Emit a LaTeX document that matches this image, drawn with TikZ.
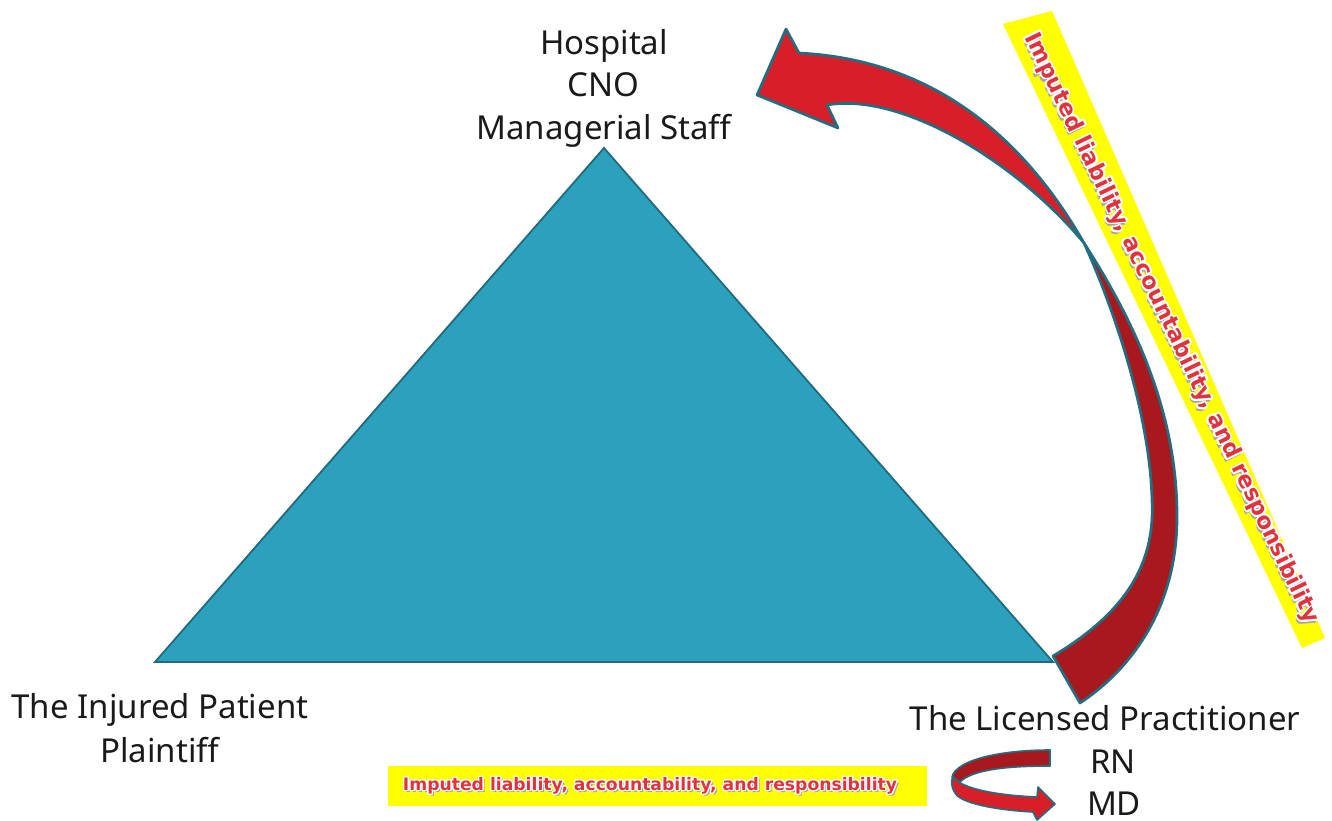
\documentclass[tikz,border=0pt]{standalone}
\usepackage{fontspec}
\usepackage{graphicx}
\usepackage{contour}
\setmainfont{Noto Sans}
\newfontfamily\badgefont{DejaVu Sans}
\contourlength{0.7pt}
\contournumber{20}

\definecolor{tealfill}{HTML}{2CA1BE}
\definecolor{tealedge}{HTML}{1F6B7E}
\definecolor{arrowred}{HTML}{D81E28}
\definecolor{arrowdark}{HTML}{A8191F}
\definecolor{arrowedge}{HTML}{226E80}
\definecolor{badgered}{HTML}{E03340}
\definecolor{badgeyellow}{HTML}{FFFF00}
\definecolor{labelgray}{HTML}{1A1A1A}

% embossed red wording: grey drop shadow, white halo, red letters
\newcommand{\imputedwords}{Imputed liability, accountability, and responsibility}
\newcommand{\embossed}{{\badgefont\bfseries
  \rlap{\raisebox{-1.3pt}{\kern1.3pt\textcolor{black!35}{\imputedwords}}}%
  \contour{white}{\textcolor{badgered}{\imputedwords}}}}

\tikzset{
  lbl/.style={anchor=base, inner sep=0pt, text=labelgray,
              font=\fontsize{33}{40}\selectfont},
  bigarrow/.style={draw=arrowedge, line width=2.7pt, line join=round},
  smallarrow/.style={draw=arrowedge, line width=1.6pt, line join=round},
}

\begin{document}
\begin{tikzpicture}[x=1pt,y=-1pt]
  \useasboundingbox (0,0) rectangle (1332,821);
  \fill[white] (0,0) rectangle (1332,821);

  % the triangle
  \filldraw[fill=tealfill, draw=tealedge, line width=1.8pt, line join=miter]
    (604,148) coordinate (apex) -- (1053,662) coordinate (rightcorner)
    -- (155,662) coordinate (leftcorner) -- cycle;

  % yellow band along the right side
  \fill[badgeyellow] (1003,24) -- (1052,11) -- (1325,638) -- (1302,648) -- cycle;
  \node[rotate=-64.3, inner sep=0pt] (sidetext) at (1170,329)
    {\resizebox{652pt}{!}{\embossed}};

  % curved arrow: darker lower half from the practitioner corner
  \coordinate (twist) at (1084,243);
  \filldraw[fill=arrowdark, bigarrow]
    (twist) .. controls (1140,330) and (1178,420) .. (1177,520)
    .. controls (1176,610) and (1130,670) .. (1080,703)
    -- (1053,656)
    .. controls (1130,610) and (1155,560) .. (1152,500)
    .. controls (1150,420) and (1118,318) .. (twist) -- cycle;
  % bright upper half with the head pointing at the hospital
  \filldraw[fill=arrowred, bigarrow]
    (757,95) -- (786,29) -- (799,53)
    .. controls (900,58) and (1005,105) .. (twist)
    .. controls (1015,160) and (900,92) .. (827,105)
    -- (838,128) -- cycle;

  % yellow band at the bottom
  \fill[badgeyellow] (388,766) rectangle (927,806);
  \node[inner sep=0pt] (bottomtext) at (650,787)
    {\resizebox{494pt}{!}{\embossed}};

  % small U-turn arrow between RN and MD
  \filldraw[fill=arrowdark, smallarrow]
    (1050,750) -- (1050,766) .. controls (1005,766) and (972,770) .. (960,782)
    -- (952,777) .. controls (956,760) and (1000,750) .. cycle;
  \filldraw[fill=arrowred, smallarrow]
    (953,776) .. controls (958,787) and (990,795) .. (1037,797)
    -- (1038,787) -- (1055,804) -- (1037,820) -- (1033,812)
    .. controls (995,810) and (960,803) .. (955,793)
    .. controls (951,787) and (951,781) .. cycle;

  % labels
  \node[lbl] (hospital)  at (604,55)  {Hospital};
  \node[lbl] (cno)       at (603,97)  {CNO};
  \node[lbl] (managers)  at (604,140) {Managerial Staff};

  \node[lbl] (patient)   at (160,718) {The Injured Patient};
  \node[lbl] (plaintiff) at (160,762) {Plaintiff};

  \node[lbl] (practitioner) at (1105,730) {The Licensed Practitioner};
  \node[lbl] (rn)        at (1113,773) {RN};
  \node[lbl] (md)        at (1114,815) {MD};
\end{tikzpicture}
\end{document}
